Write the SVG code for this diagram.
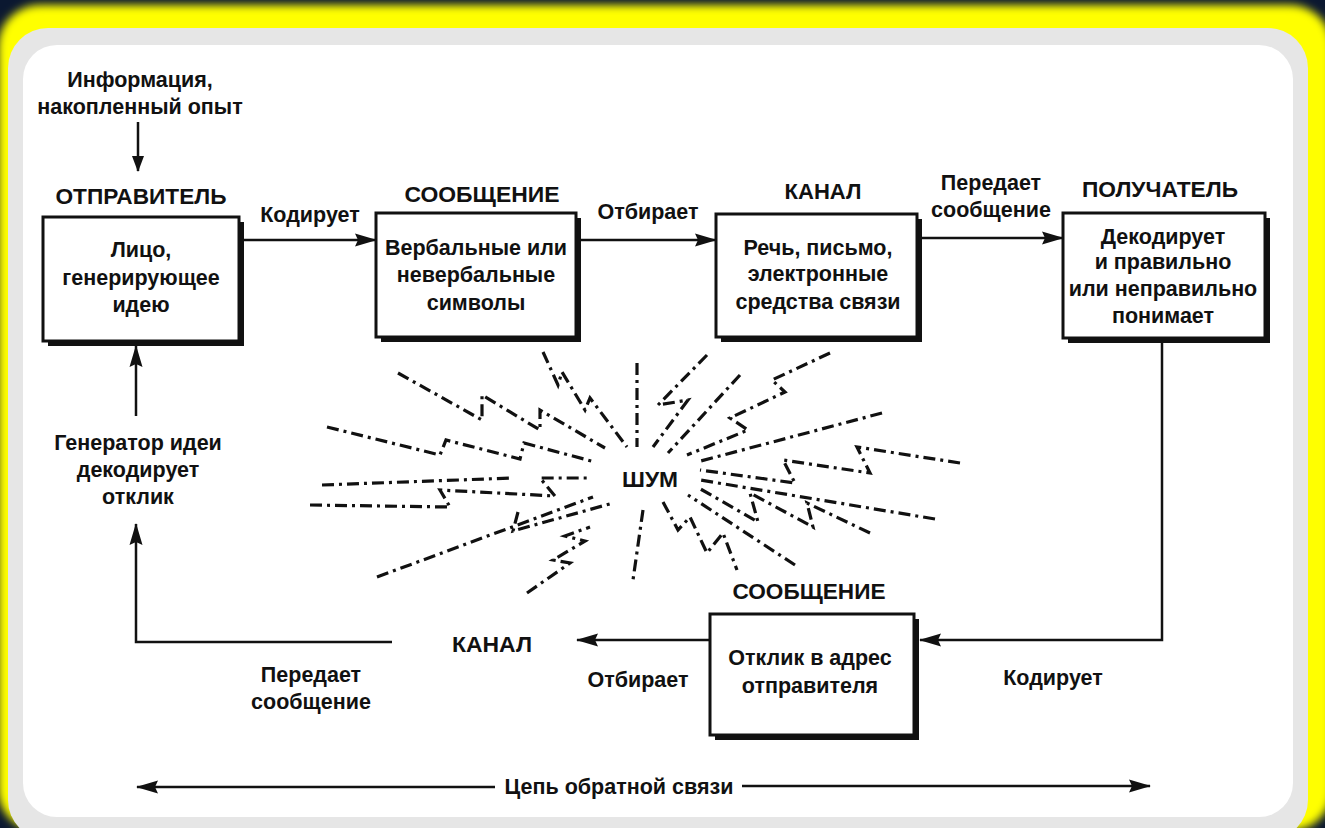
<svg xmlns="http://www.w3.org/2000/svg" width="1325" height="828" viewBox="0 0 1325 828">
<defs>
<style>
.t{font-family:"Liberation Sans",Arial,sans-serif;font-weight:bold;font-size:21.5px;fill:#111;text-anchor:middle}
.box{fill:#fff;stroke:#111;stroke-width:3}
.sh{fill:#111}
.ln{fill:none;stroke:#111;stroke-width:2.5}
.nz{fill:none;stroke:#111;stroke-width:3.2;stroke-dasharray:12 5 3 5;stroke-linejoin:miter}
</style>
<filter id="blur" x="-5%" y="-5%" width="110%" height="110%"><feGaussianBlur stdDeviation="4"/></filter>
<marker id="ah" viewBox="0 0 22 14" refX="21" refY="7" markerWidth="22" markerHeight="14" markerUnits="userSpaceOnUse" orient="auto-start-reverse"><path d="M0,0.5 L22,7 L0,13.5 L3,7 Z" fill="#111"/></marker>
<marker id="ahs" viewBox="0 0 16 12" refX="15" refY="6" markerWidth="16" markerHeight="12" markerUnits="userSpaceOnUse" orient="auto"><path d="M0,0 L16,6 L0,12 Z" fill="#111"/></marker>
</defs>
<g id="frame">
<rect width="1325" height="828" fill="#0b1830"/>
<rect x="-2" y="5" width="1334" height="826" rx="42" fill="#ffff00" filter="url(#blur)"/>
<rect x="8" y="28" width="1300" height="812" rx="40" fill="#e6e6e6"/>
<rect x="23" y="45" width="1270" height="772" rx="34" fill="#ffffff"/>
</g>

<g id="connectors">
<line class="ln" x1="138" y1="122" x2="138" y2="171" marker-end="url(#ahs)"/>
<line class="ln" x1="244" y1="240" x2="376" y2="240" marker-end="url(#ah)"/>
<line class="ln" x1="581" y1="240" x2="716" y2="240" marker-end="url(#ah)"/>
<line class="ln" x1="922" y1="238" x2="1063" y2="238" marker-end="url(#ah)"/>
<polyline class="ln" points="1162,343 1162,640 920,640" marker-end="url(#ah)"/>
<line class="ln" x1="710" y1="640" x2="577" y2="640" marker-end="url(#ah)"/>
<polyline class="ln" points="392,642 136,642 136,524" marker-end="url(#ah)"/>
<line class="ln" x1="136" y1="416" x2="136" y2="346" marker-end="url(#ah)"/>
<text class="t" x="310" y="222">Кодирует</text>
<text class="t" x="648" y="219">Отбирает</text>
<text class="t" x="991" y="190">Передает</text>
<text class="t" x="991" y="217">сообщение</text>
<text class="t" x="1053" y="685">Кодирует</text>
<text class="t" x="638" y="687">Отбирает</text>
<text class="t" x="311" y="682">Передает</text>
<text class="t" x="311" y="709">сообщение</text>
<text class="t" x="138" y="450">Генератор идеи</text>
<text class="t" x="138" y="477">декодирует</text>
<text class="t" x="138" y="504">отклик</text>
</g>

<g id="info">
<text class="t" x="140" y="87">Информация,</text>
<text class="t" x="140" y="114">накопленный опыт</text>
</g>

<g id="sender">
<text class="t" x="141" y="204" textLength="171" lengthAdjust="spacingAndGlyphs">ОТПРАВИТЕЛЬ</text>
<rect class="sh" x="48" y="222" width="196" height="124"/>
<rect class="box" x="43" y="217" width="196" height="124"/>
<text class="t" x="141" y="257">Лицо,</text>
<text class="t" x="141" y="285">генерирующее</text>
<text class="t" x="141" y="312">идею</text>
</g>

<g id="message">
<text class="t" x="482" y="202" textLength="155" lengthAdjust="spacingAndGlyphs">СООБЩЕНИЕ</text>
<rect class="sh" x="381" y="218" width="200" height="124"/>
<rect class="box" x="376" y="213" width="200" height="124"/>
<text class="t" x="476" y="255">Вербальные или</text>
<text class="t" x="476" y="282">невербальные</text>
<text class="t" x="476" y="310">символы</text>
</g>

<g id="channel">
<text class="t" x="823" y="199" textLength="77" lengthAdjust="spacingAndGlyphs">КАНАЛ</text>
<rect class="sh" x="721" y="219" width="201" height="123"/>
<rect class="box" x="716" y="214" width="201" height="123"/>
<text class="t" x="818" y="255">Речь, письмо,</text>
<text class="t" x="818" y="281">электронные</text>
<text class="t" x="818" y="309">средства связи</text>
</g>

<g id="receiver">
<text class="t" x="1160" y="197" textLength="156" lengthAdjust="spacingAndGlyphs">ПОЛУЧАТЕЛЬ</text>
<rect class="sh" x="1068" y="218" width="202" height="125"/>
<rect class="box" x="1063" y="213" width="202" height="125"/>
<text class="t" x="1163" y="244">Декодирует</text>
<text class="t" x="1163" y="269">и правильно</text>
<text class="t" x="1163" y="296">или неправильно</text>
<text class="t" x="1163" y="323">понимает</text>
</g>

<g id="response">
<text class="t" x="809" y="599" textLength="153" lengthAdjust="spacingAndGlyphs">СООБЩЕНИЕ</text>
<rect class="sh" x="715" y="619" width="204" height="121"/>
<rect class="box" x="710" y="614" width="204" height="121"/>
<text class="t" x="810" y="665">Отклик в адрес</text>
<text class="t" x="810" y="693">отправителя</text>
</g>

<g id="channel-back">
<text class="t" x="492" y="652" textLength="80" lengthAdjust="spacingAndGlyphs">КАНАЛ</text>
</g>

<g id="noise">
<text class="t" x="650" y="487" textLength="56" lengthAdjust="spacingAndGlyphs">ШУМ</text>
<polyline class="nz" points="543,352 558,385 562,372 585,410 590,398 627,447"/>
<polyline class="nz" points="398,373 482,420 482,395 540,430 540,410 605,448"/>
<polyline class="nz" points="327,427 440,455 446,440 520,459 524,443 595,462"/>
<polyline class="nz" points="322,485 513,478"/>
<polyline class="nz" points="310,505 450,507 440,490 555,496 540,478 587,478"/>
<polyline class="nz" points="377,577 593,497"/>
<polyline class="nz" points="518,512 513,531 613,503"/>
<polyline class="nz" points="527,593 570,563 553,560 585,541 565,536 590,527"/>
<polyline class="nz" points="637,363 637,447"/>
<polyline class="nz" points="643,510 633,580"/>
<polyline class="nz" points="707,355 658,405 688,400 653,447"/>
<polyline class="nz" points="740,375 668,453"/>
<polyline class="nz" points="830,353 772,380 785,392 730,418 748,430 687,455"/>
<polyline class="nz" points="882,413 697,462"/>
<polyline class="nz" points="960,463 857,447 870,473 783,460 795,483 700,470"/>
<polyline class="nz" points="935,519 700,480"/>
<polyline class="nz" points="870,533 807,503 813,527 750,493 758,522 697,487"/>
<polyline class="nz" points="795,565 688,495"/>
<polyline class="nz" points="663,502 678,530 690,517 707,553 723,533 737,570"/>
</g>

<g id="feedback">
<line class="ln" x1="495" y1="787" x2="137" y2="787" marker-end="url(#ah)"/>
<line class="ln" x1="742" y1="786" x2="1150" y2="786" marker-end="url(#ah)"/>
<text class="t" x="619" y="794">Цепь обратной связи</text>
</g>
</svg>
